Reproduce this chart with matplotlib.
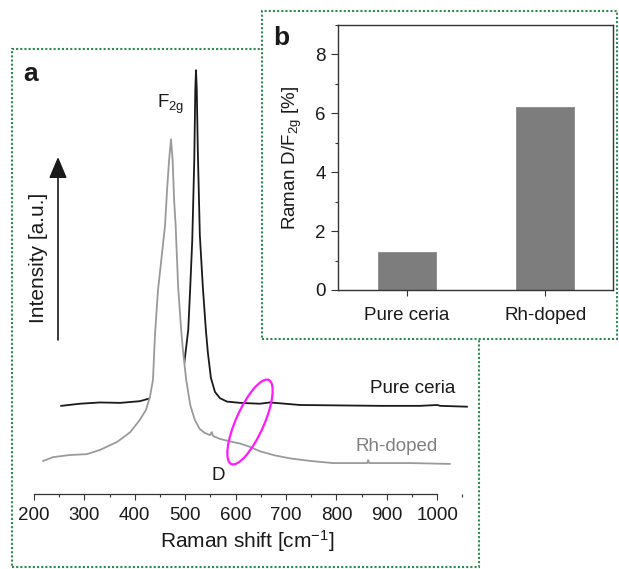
import matplotlib
matplotlib.use("Agg")
import matplotlib.pyplot as plt
from matplotlib.patches import Rectangle, Ellipse
from matplotlib.ticker import MultipleLocator

plt.rcParams['font.family'] = ['Liberation Sans', 'DejaVu Sans']
plt.rcParams['mathtext.fontset'] = 'custom'
plt.rcParams['mathtext.rm'] = 'Liberation Sans'
plt.rcParams['mathtext.it'] = 'Liberation Sans:italic'
plt.rcParams['mathtext.default'] = 'regular'

# ---------------- data: panel a (Raman spectra, a.u.) ----------------
pure_shift = [254, 291, 331, 371, 410, 440, 466, 486, 498, 506, 510, 514, 518,
              520, 521.4, 523, 525, 529, 535, 541, 545, 551, 559, 569, 583, 609,
              648, 668, 728, 807, 887, 966, 1000, 1006, 1059]
pure_int = [20.8, 21.3, 21.6, 21.5, 21.9, 22.9, 25.0, 27.8, 30.7, 38.7, 48.8, 59.9,
            78.8, 95.3, 100.0, 95.3, 81.1, 61.1, 48.8, 38.7, 33.3, 27.4, 24.1, 22.6,
            21.8, 21.5, 21.3, 21.6, 21.0, 20.9, 20.8, 20.8, 21.0, 20.8, 20.6]

rh_shift = [218, 238, 271, 305, 331, 365, 391, 410, 422, 430, 436, 440, 446, 454,
            460, 464, 468, 471.8, 475, 478, 481, 486, 492, 496, 502, 510, 519,
            529, 539, 549, 553, 555, 569, 589, 609, 629, 648, 678, 708, 748, 793,
            861, 863, 865, 946, 1025]
rh_int = [7.8, 8.7, 9.2, 9.4, 10.4, 12.3, 14.6, 17.5, 19.8, 22.9, 26.9, 37.5, 48.1,
          56.8, 63.4, 71.7, 78.8, 83.7, 78.8, 69.3, 63.4, 48.8, 38.7, 33.3, 26.9,
          21.0, 17.5, 15.3, 14.4, 13.9, 14.6, 13.7, 13.0, 12.4, 11.9, 11.1, 10.1,
          9.1, 8.4, 7.8, 7.3, 7.3, 8.0, 7.3, 7.3, 7.1]

# ---------------- data: panel b (bar chart) ----------------
categories = ["Pure ceria", "Rh-doped"]
ratio_values = [1.3, 6.2]
xticks_a = [200, 300, 400, 500, 600, 700, 800, 900, 1000]
yticks_b = [0, 2, 4, 6, 8]

W, H = 619, 569
fig = plt.figure(figsize=(W / 100, H / 100), dpi=100)
fig.patch.set_facecolor('white')


def fx(px):
    return px / W


def fy(py):
    return 1 - py / H


green = '#2f8a4c'

# panel a frame
rect_a = Rectangle((fx(12), fy(567)), fx(479) - fx(12), fy(49) - fy(567),
                   transform=fig.transFigure, fill=False, edgecolor=green,
                   linestyle=(0, (1, 1)), linewidth=1.5, zorder=0.5)
fig.add_artist(rect_a)

# ---------------- panel a ----------------
ax = fig.add_axes([fx(20), fy(494), fx(475) - fx(20), fy(60) - fy(494)])
ax.set_zorder(1)
ax.patch.set_visible(False)
ax.plot(pure_shift, pure_int, color='#1a1a1a', lw=1.3, zorder=2)
# the Rh-doped trace is drawn over the pure-ceria one (opaque below its line)
ax.fill_between(rh_shift, rh_int, 0, color='white', lw=0, zorder=2.5)
ax.plot(rh_shift, rh_int, color='#9a9a9a', lw=1.3, zorder=3)
ax.set_xlim(172.2, 1075.0)
ax.set_ylim(0, 102.4)
for s in ['top', 'right', 'left']:
    ax.spines[s].set_visible(False)
ax.spines['bottom'].set_bounds(200, 1000)
ax.spines['bottom'].set_linewidth(0.9)
ax.spines['bottom'].set_color('#333333')
ax.spines['bottom'].set_zorder(4)
ax.set_yticks([])
ax.set_xticks(xticks_a)
ax.xaxis.set_minor_locator(MultipleLocator(50))
ax.tick_params(axis='x', which='major', direction='out', length=4.5, width=0.8,
               labelsize=13.5, color='#333333', labelcolor='#1a1a1a', pad=5)
ax.tick_params(axis='x', which='minor', direction='out', length=2.5, width=0.8,
               color='#333333')
ax.set_xlabel('Raman shift [cm$^{-1}$]', fontsize=15, color='#1a1a1a', labelpad=3)

ax.text(444, 92, 'F$_{2g}$', fontsize=13.5, color='#1a1a1a', ha='left',
        va='center', zorder=5)
ax.text(566, 4.3, 'D', fontsize=13.5, color='#1a1a1a', ha='center',
        va='center', zorder=5)
ax.text(866, 24.8, 'Pure ceria', fontsize=13.5, color='#1a1a1a', ha='left',
        va='center', zorder=5)
ax.text(837, 11.3, 'Rh-doped', fontsize=13.5, color='#808080', ha='left',
        va='center', zorder=5)

# ---------------- panel b ----------------
rect_b = Rectangle((fx(262), fy(339)), fx(617) - fx(262), fy(11) - fy(339),
                   transform=fig.transFigure, facecolor='white', edgecolor=green,
                   linestyle=(0, (1, 1)), linewidth=1.5, zorder=2)
fig.add_artist(rect_b)

axb = fig.add_axes([fx(338), fy(290), fx(613) - fx(338), fy(25) - fy(290)])
axb.set_zorder(3)
axb.bar(range(len(categories)), ratio_values, width=0.42, color='#7d7d7d',
        edgecolor='#8a8a8a', linewidth=0.6)
axb.set_xlim(-0.5, 1.49)
axb.set_ylim(0, 9)
axb.set_yticks(yticks_b)
axb.yaxis.set_minor_locator(MultipleLocator(1))
axb.set_xticks(range(len(categories)))
axb.set_xticklabels(categories)
for s in axb.spines.values():
    s.set_linewidth(1.0)
    s.set_color('#333333')
axb.tick_params(axis='y', which='major', direction='out', length=5, width=0.8,
                labelsize=13.5, color='#333333', labelcolor='#1a1a1a', pad=4)
axb.tick_params(axis='y', which='minor', direction='out', length=2.5, width=0.8,
                color='#333333')
axb.tick_params(axis='x', which='major', direction='out', length=4, width=0.8,
                labelsize=13.5, color='#333333', labelcolor='#1a1a1a', pad=8)
axb.set_ylabel('Raman D/F$_{2g}$ [%]', fontsize=13.5, color='#1a1a1a', labelpad=8)

# ---------------- overlay (annotations in pixel space) ----------------
ov = fig.add_axes([0, 0, 1, 1])
ov.set_zorder(5)
ov.set_xlim(0, W)
ov.set_ylim(H, 0)
ov.axis('off')
ov.patch.set_visible(False)

ov.text(23, 81, 'a', fontsize=19, fontweight='bold', color='#1a1a1a',
        ha='left', va='baseline')
ov.text(273, 45, 'b', fontsize=19, fontweight='bold', color='#1a1a1a',
        ha='left', va='baseline')

ov.annotate('', xy=(58, 157), xytext=(58, 340),
            arrowprops=dict(arrowstyle='-|>,head_length=1.3,head_width=0.55',
                            mutation_scale=10, color='#1a1a1a', lw=1.2,
                            shrinkA=0, shrinkB=0))
ov.text(38, 258, 'Intensity [a.u.]', fontsize=15, color='#1a1a1a', rotation=90,
        ha='center', va='center')

ov.add_patch(Ellipse((250, 422), 92, 28, angle=-66, fill=False,
                     edgecolor='#ff1aff', linewidth=1.6))

fig.savefig('out.png', dpi=100)
